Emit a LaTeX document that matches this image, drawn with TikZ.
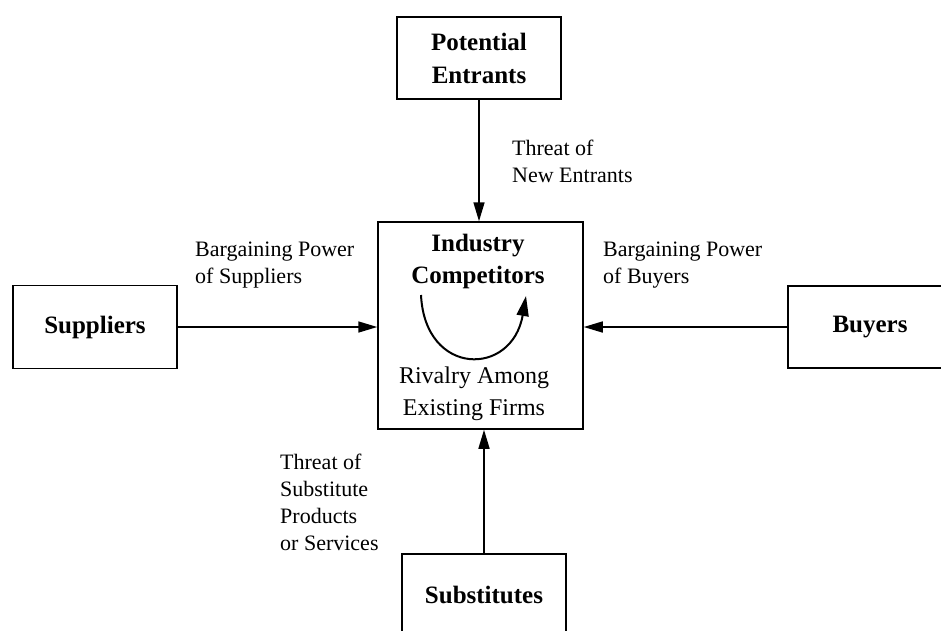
\documentclass[tikz,border=0pt]{standalone}
\usepackage{fontspec}
\setmainfont{Liberation Serif}
\usetikzlibrary{arrows.meta}
\tikzset{
  forcebox/.style={draw, line width=1.5pt, inner sep=0pt, align=center,
    font=\bfseries\fontsize{25}{33}\selectfont},
  forcelabel/.style={inner sep=0pt, anchor=west, align=left,
    font=\fontsize{22}{27}\selectfont},
  forcearrow/.style={line width=1.6pt, -{Triangle[length=19pt,width=11pt]}},
}
\begin{document}
\begin{tikzpicture}[x=1pt, y=-1pt]
\useasboundingbox (0,0) rectangle (941,630);

% the five forces
\node[forcebox, minimum width=164pt, minimum height=82pt] (entrants) at (479,58) {Potential\\Entrants};
\node[forcebox, minimum width=205pt, minimum height=207pt] (industry) at (480.5,325.5) {};
\node[forcebox, minimum width=164pt, minimum height=83pt] (suppliers) at (95,327) {Suppliers};
\node[forcebox, minimum width=164pt, minimum height=82pt] (buyers) at (870,327) {Buyers};
\node[forcebox, minimum width=164pt, minimum height=82pt] (substitutes) at (484,595) {Substitutes};

% contents of the central box
\node[inner sep=0pt, align=center, font=\bfseries\fontsize{25}{32}\selectfont] (title) at (478,261) {Industry\\Competitors};
\node[inner sep=0pt, align=center, font=\fontsize{24}{32}\selectfont] (rivalry) at (474,394) {Rivalry Among\\Existing Firms};
\coordinate (arcstart) at (421,295);
\coordinate (arcend) at (526,296);
\draw[line width=2pt, -{Triangle[length=20pt,width=12pt]}]
  (arcstart) .. controls (425,377) and (512,377) .. (arcend);

% connectors
\draw[forcearrow] (entrants.south) -- (entrants.south |- industry.north);
\draw[forcearrow] (suppliers.east) -- (industry.west |- suppliers.east);
\draw[forcearrow] (buyers.west) -- (industry.east |- buyers.west);
\draw[forcearrow] (substitutes.north) -- (substitutes.north |- industry.south);

% labels
\node[forcelabel] (newlabel) at (512,161) {Threat of\\New Entrants};
\node[forcelabel] (suplabel) at (195,265) {Bargaining Power\\of Suppliers};
\node[forcelabel] (buylabel) at (603,265) {Bargaining Power\\of Buyers};
\node[forcelabel] (sublabel) at (280,502) {Threat of\\Substitute\\Products\\or Services};
\end{tikzpicture}
\end{document}
